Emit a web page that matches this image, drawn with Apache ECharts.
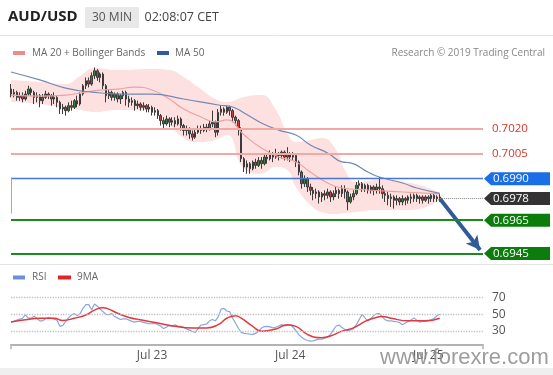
<!DOCTYPE html>
<html><head><meta charset="utf-8">
<script src="https://cdn.jsdelivr.net/npm/echarts@6/dist/echarts.min.js"></script>
<style>html,body{margin:0;padding:0;background:#fff}#c{width:553px;height:375px}</style>
</head><body><div id="c"></div><script>
// ---- DATA ----
const tickIndex = [49, 97, 145];
const tickLabels = ['Jul 23', 'Jul 24', 'Jul 25'];
const slotCount = 165;
// candles: [open, close, low, high]
const candles = [
[0.7044,0.7041,0.7039,0.7047],[0.7041,0.7042,0.7039,0.7044],[0.7042,0.7039,0.7037,0.7043],[0.7039,0.7040,0.7037,0.7042],
[0.7040,0.7038,0.7036,0.7042],[0.7038,0.7041,0.7037,0.7043],[0.7041,0.7044,0.7040,0.7046],[0.7044,0.7042,0.7040,0.7045],
[0.7042,0.7039,0.7035,0.7043],[0.7039,0.7040,0.7036,0.7042],[0.7040,0.7037,0.7033,0.7041],[0.7037,0.7039,0.7035,0.7041],
[0.7039,0.7041,0.7038,0.7043],[0.7041,0.7040,0.7038,0.7042],[0.7040,0.7038,0.7034,0.7041],[0.7038,0.7039,0.7035,0.7042],
[0.7039,0.7036,0.7033,0.7040],[0.7036,0.7032,0.7029,0.7037],[0.7032,0.7033,0.7029,0.7035],[0.7033,0.7031,0.7028,0.7034],
[0.7031,0.7034,0.7030,0.7036],[0.7034,0.7033,0.7031,0.7037],[0.7033,0.7037,0.7032,0.7038],[0.7037,0.7035,0.7033,0.7040],
[0.7035,0.7041,0.7034,0.7042],[0.7041,0.7046,0.7040,0.7047],[0.7046,0.7049,0.7044,0.7051],[0.7049,0.7047,0.7045,0.7051],
[0.7047,0.7052,0.7046,0.7054],[0.7052,0.7055,0.7050,0.7057],[0.7055,0.7051,0.7049,0.7056],[0.7051,0.7053,0.7048,0.7054],
[0.7053,0.7046,0.7044,0.7054],[0.7046,0.7040,0.7036,0.7047],[0.7040,0.7042,0.7038,0.7044],[0.7042,0.7039,0.7037,0.7043],
[0.7039,0.7041,0.7037,0.7042],[0.7041,0.7038,0.7036,0.7042],[0.7038,0.7040,0.7035,0.7041],[0.7040,0.7042,0.7038,0.7043],
[0.7042,0.7038,0.7034,0.7043],[0.7038,0.7036,0.7033,0.7040],[0.7036,0.7037,0.7034,0.7039],[0.7037,0.7034,0.7031,0.7038],
[0.7034,0.7035,0.7032,0.7037],[0.7035,0.7033,0.7031,0.7036],[0.7033,0.7034,0.7031,0.7036],[0.7034,0.7032,0.7030,0.7035],
[0.7032,0.7033,0.7030,0.7035],[0.7033,0.7030,0.7028,0.7034],[0.7030,0.7031,0.7028,0.7033],[0.7031,0.7028,0.7026,0.7032],
[0.7028,0.7025,0.7022,0.7029],[0.7025,0.7023,0.7020,0.7027],[0.7023,0.7026,0.7022,0.7028],[0.7026,0.7024,0.7021,0.7027],
[0.7024,0.7025,0.7022,0.7027],[0.7025,0.7023,0.7021,0.7027],[0.7023,0.7026,0.7022,0.7028],[0.7026,0.7022,0.7019,0.7027],
[0.7022,0.7019,0.7016,0.7023],[0.7019,0.7020,0.7016,0.7022],[0.7020,0.7017,0.7014,0.7021],[0.7017,0.7015,0.7013,0.7019],
[0.7015,0.7018,0.7014,0.7020],[0.7018,0.7020,0.7017,0.7022],[0.7020,0.7019,0.7017,0.7022],[0.7019,0.7021,0.7018,0.7023],
[0.7021,0.7020,0.7018,0.7023],[0.7020,0.7023,0.7019,0.7025],[0.7023,0.7024,0.7021,0.7031],[0.7024,0.7018,0.7015,0.7025],
[0.7018,0.7030,0.7016,0.7032],[0.7030,0.7032,0.7028,0.7034],[0.7032,0.7030,0.7028,0.7033],[0.7030,0.7033,0.7029,0.7034],
[0.7033,0.7031,0.7028,0.7034],[0.7031,0.7027,0.7024,0.7032],[0.7027,0.7025,0.7022,0.7028],[0.7025,0.7020,0.7016,0.7026],
[0.7020,0.7002,0.7000,0.7021],[0.7002,0.6997,0.6994,0.7003],[0.6997,0.6999,0.6993,0.7001],[0.6999,0.6996,0.6993,0.7000],
[0.6996,0.7000,0.6995,0.7001],[0.7000,0.6998,0.6996,0.7002],[0.6998,0.7001,0.6997,0.7003],[0.7001,0.6999,0.6996,0.7003],
[0.6999,0.7003,0.6998,0.7005],[0.7003,0.7002,0.6999,0.7005],[0.7002,0.7005,0.7001,0.7007],[0.7005,0.7003,0.7000,0.7006],
[0.7003,0.7005,0.7002,0.7008],[0.7005,0.7004,0.7001,0.7006],[0.7004,0.7006,0.7002,0.7007],[0.7006,0.7003,0.7001,0.7007],
[0.7003,0.7005,0.7001,0.7009],[0.7005,0.7003,0.7000,0.7006],[0.7003,0.7004,0.7001,0.7006],[0.7004,0.7000,0.6997,0.7005],
[0.7000,0.6994,0.6992,0.7001],[0.6994,0.6987,0.6984,0.6995],[0.6987,0.6990,0.6985,0.6992],[0.6990,0.6985,0.6982,0.6991],
[0.6985,0.6983,0.6980,0.6987],[0.6983,0.6981,0.6977,0.6985],[0.6981,0.6982,0.6978,0.6984],[0.6982,0.6979,0.6975,0.6983],
[0.6979,0.6981,0.6976,0.6982],[0.6981,0.6980,0.6977,0.6983],[0.6980,0.6982,0.6978,0.6984],[0.6982,0.6979,0.6976,0.6983],
[0.6979,0.6981,0.6977,0.6983],[0.6981,0.6983,0.6979,0.6985],[0.6983,0.6981,0.6978,0.6984],[0.6981,0.6984,0.6979,0.6986],
[0.6984,0.6982,0.6978,0.6986],[0.6982,0.6976,0.6971,0.6983],[0.6976,0.6979,0.6975,0.6981],[0.6979,0.6981,0.6977,0.6983],
[0.6981,0.6986,0.6980,0.6988],[0.6986,0.6987,0.6984,0.6989],[0.6987,0.6984,0.6982,0.6988],[0.6984,0.6986,0.6982,0.6987],
[0.6986,0.6983,0.6981,0.6987],[0.6983,0.6985,0.6981,0.6986],[0.6985,0.6983,0.6980,0.6986],[0.6983,0.6985,0.6981,0.6987],
[0.6985,0.6984,0.6981,0.6991],[0.6984,0.6981,0.6978,0.6986],[0.6981,0.6980,0.6976,0.6983],[0.6980,0.6978,0.6974,0.6982],
[0.6978,0.6979,0.6973,0.6981],[0.6979,0.6977,0.6972,0.6980],[0.6977,0.6978,0.6974,0.6980],[0.6978,0.6976,0.6974,0.6979],
[0.6976,0.6978,0.6974,0.6980],[0.6978,0.6977,0.6974,0.6979],[0.6977,0.6979,0.6975,0.6980],[0.6979,0.6978,0.6975,0.6981],
[0.6978,0.6980,0.6976,0.6981],[0.6980,0.6978,0.6976,0.6981],[0.6978,0.6979,0.6975,0.6980],[0.6979,0.6977,0.6975,0.6980],
[0.6977,0.6979,0.6976,0.6980],[0.6979,0.6978,0.6975,0.6980],[0.6978,0.6980,0.6976,0.6981],[0.6980,0.6978,0.6976,0.6981],
[0.6978,0.6979,0.6976,0.6980],[0.6979,0.6978,0.6976,0.6981]
];
// [candle index, price]
const ma50 = [[0,0.70543],[10,0.70495],[19,0.70446],[28,0.70422],[39,0.70410],[49,0.70410],[60,0.70380],[72,0.70344],[77,0.70332],[81,0.70296],[87,0.70236],[93,0.70193],[99,0.70163],[104,0.70103],[110,0.70055],[115,0.70001],[118,0.69995],[124,0.69940],[128,0.69910],[136,0.69874],[141,0.69844],[149,0.69812]];
const ma20 = [[0,0.70404],[10,0.70398],[19,0.70404],[26,0.70422],[31,0.70434],[37,0.70440],[43,0.70452],[49,0.70434],[55,0.70380],[60,0.70320],[66,0.70272],[71,0.70242],[75,0.70254],[81,0.70163],[87,0.70085],[93,0.70031],[99,0.70001],[104,0.69940],[110,0.69874],[115,0.69844],[124,0.69832],[136,0.69820],[149,0.69808]];
const bandIdx   = [0,10,19,24,29,37,49,55,60,65,71,75,81,87,92,96,99,104,108,113,116,120,128,139,149];
const bandUpper = [0.70495,0.70483,0.70471,0.70519,0.70567,0.70555,0.70561,0.70555,0.70513,0.70452,0.70380,0.70362,0.70392,0.70404,0.70314,0.70175,0.70121,0.70133,0.70145,0.70073,0.69952,0.69880,0.69892,0.69874,0.69814];
const bandLower = [0.70362,0.70350,0.70326,0.70314,0.70302,0.70314,0.70314,0.70223,0.70145,0.70121,0.70133,0.70163,0.69960,0.69930,0.69970,0.69952,0.69850,0.69742,0.69699,0.69687,0.69693,0.69699,0.69711,0.69711,0.69771];
const rsi = [40.7,41.5,43,44.2,45.3,49.2,45.3,45.3,47.7,45,42.2,42.2,44.6,46.1,45.3,44.2,43,35.6,36.8,41.5,
45.7,49.2,50.8,48.1,50.8,57,61.6,61.6,55.4,62.4,59.7,56.2,53.1,50,49.6,50.8,47.3,45.7,43.8,44.6,
44.6,43,41.5,40.7,41.5,41.5,40.3,39.5,38.7,38.7,39.5,37.6,36,32.9,34.5,36.8,35.6,37.6,35.6,35.6,
34.5,32.5,31,29.4,28.3,32.9,37.2,37.6,38.4,42.2,43.8,42.2,46.9,56.2,57,53.9,53.1,45.3,39.5,33.3,
28.3,27.1,26.7,26.3,26,27.1,29.8,33.3,35.3,35.6,34.9,33.7,34.5,36,37.6,36,36.8,37.6,34.5,30.6,
25.6,22.5,20.1,18.6,17.8,18.2,19.3,20.1,20.1,21.3,22.5,25.9,31.4,36,37.2,34.1,31.8,30.2,31.4,32.9,
37.6,43.8,50,45.7,41.9,44.6,48.4,50.8,50.8,46.9,43.4,42.2,42.2,41.5,41.1,39.9,37.6,39.5,41.5,43,
45.7,43,40.7,41.5,41.5,42.2,43.4,45,48.4,50];
const rsiMA = [[0,40.7],[5,43.4],[10,45.3],[15,45.3],[18,42.6],[22,45.3],[26,49.2],[29,55],[32,57.8],[34,56.2],[37,51.2],[41,46.1],[45,43.4],[51,39.5],[57,35.6],[63,33.7],[68,33.7],[72,37.6],[75,45.3],[78,48.4],[80,45.3],[84,35.6],[87,29.8],[92,32.5],[96,37.6],[99,35.6],[103,25.9],[108,22],[111,24],[115,29.8],[119,33.7],[123,41.5],[126,45.3],[129,47.3],[132,45.3],[138,42.2],[144,42.2],[149,45.3]];
const resistance = [0.7020, 0.7005];
const pivot = 0.6990;
const lastPrice = 0.6978;
const supports = [0.6965, 0.6945];
const arrowTarget = 0.6947;
const rsiLevels = [70, 50, 30];

// ---- BUILD ----
const cats = [];
for (let i = 0; i < slotCount; i++) {
  const t = i * 30 - 30;
  const day = 22 + Math.floor(t / 1440);
  const m = ((t % 1440) + 1440) % 1440;
  cats.push('07-' + day + ' ' + String(Math.floor(m / 60)).padStart(2, '0') + ':' + String(m % 60).padStart(2, '0'));
}
const lastIdx = candles.length - 1;
const bandLowPairs = bandIdx.map((x, k) => [x, bandLower[k]]);
const bandDiffPairs = bandIdx.map((x, k) => [x, bandUpper[k] - bandLower[k]]);
const FONT = '"Open Sans", sans-serif';
const redLabel = {show: true, position: 'end', distance: 9, color: '#d9342b', fontSize: 11.5, fontFamily: FONT, formatter: p => Number(p.value).toFixed(4)};

const chart = echarts.init(document.getElementById('c'));
const option = {
  animation: false,
  backgroundColor: '#fff',
  grid: [
    {left: 11, right: 70, top: 62.5, height: 199.2},
    {left: 11, right: 70, top: 288.4, height: 56.8}
  ],
  xAxis: [
    {type: 'category', gridIndex: 0, data: cats, boundaryGap: false, show: false},
    {type: 'category', gridIndex: 1, data: cats, boundaryGap: false,
     axisLine: {show: true, lineStyle: {color: '#b3b3b3', width: 2}},
     axisTick: {show: true, length: 4, interval: (i) => i === 0 || i === slotCount - 1, lineStyle: {color: '#b3b3b3', width: 1.5}},
     axisLabel: {interval: (i) => tickIndex.indexOf(i) >= 0, formatter: (v, i) => tickLabels[tickIndex.indexOf(i)] || '',
       color: '#555', fontSize: 12, fontFamily: FONT, margin: 4},
     splitLine: {show: false}}
  ],
  yAxis: [
    {type: 'value', gridIndex: 0, min: 0.6940, max: 0.7060, show: false, splitLine: {show: false}},
    {type: 'value', gridIndex: 1, min: 13, max: 81, show: false, splitLine: {show: false}}
  ],
  series: [
    {type: 'line', name: 'bbLow', data: bandLowPairs, stack: 'bb', smooth: 0.5, symbol: 'none', silent: true,
     lineStyle: {opacity: 0}, z: 1},
    {type: 'line', name: 'bbBand', data: bandDiffPairs, stack: 'bb', smooth: 0.5, symbol: 'none', silent: true,
     lineStyle: {opacity: 0}, areaStyle: {color: '#fde1e1', opacity: 1}, z: 1},
    {type: 'candlestick', data: candles, barWidth: 2, clip: false, z: 3,
     itemStyle: {color: '#3d7f3d', color0: '#d63a3a', borderColor: '#3b3b3b', borderColor0: '#3b3b3b', borderWidth: 1}},
    {type: 'line', name: 'MA 20', data: ma20, smooth: 0.5, symbol: 'none', z: 4,
     lineStyle: {color: '#f0a0a0', width: 1.2},
     markLine: {silent: true, precision: 5, symbol: ['none', 'arrow'], symbolSize: [11, 14], animation: false,
       lineStyle: {color: '#2f5c98', width: 4, type: 'solid'}, label: {show: false},
       data: [[{coord: [lastIdx, lastPrice]}, {coord: [slotCount - 2, arrowTarget]}]]}},
    {type: 'line', name: 'MA 50', data: ma50, smooth: 0.5, symbol: 'none', z: 4,
     lineStyle: {color: '#7488b4', width: 1.2},
     markLine: {silent: true, precision: 5, symbol: ['none', 'none'], animation: false, label: {show: false},
       data: [
         {yAxis: resistance[0], lineStyle: {color: '#f3a8a8', width: 2, type: 'solid'}, label: redLabel},
         {yAxis: resistance[1], lineStyle: {color: '#f3a8a8', width: 2, type: 'solid'}, label: redLabel},
         {yAxis: pivot, lineStyle: {color: '#4877d6', width: 1.3, type: 'solid'}},
         {yAxis: supports[0], lineStyle: {color: '#1d8a1d', width: 2, type: 'solid'}},
         {yAxis: supports[1], lineStyle: {color: '#1d8a1d', width: 2, type: 'solid'}},
         [{coord: [lastIdx, lastPrice], lineStyle: {color: '#888', width: 1, type: 'dotted'}}, {coord: [slotCount - 1, lastPrice]}],
         [{coord: [0, 0.6991], lineStyle: {color: '#aaa', width: 1, type: 'solid'}}, {coord: [0, 0.6969]}]
       ]}},
    {type: 'line', name: 'RSI', xAxisIndex: 1, yAxisIndex: 1, data: rsi, symbol: 'none', z: 3,
     lineStyle: {color: '#8ba5de', width: 1.2},
     markLine: {silent: true, symbol: ['none', 'none'], animation: false,
       lineStyle: {color: '#c2c2c2', width: 1.3, type: 'dotted'},
       label: {show: true, position: 'end', distance: 9, color: '#555', fontSize: 12, fontFamily: FONT, formatter: p => String(Math.round(p.value))},
       data: rsiLevels.map(v => ({yAxis: v}))}},
    {type: 'line', name: '9MA', xAxisIndex: 1, yAxisIndex: 1, data: rsiMA, smooth: 0.5, symbol: 'none', z: 4,
     lineStyle: {color: '#e0393e', width: 1.5}}
  ]
};
chart.setOption(option);

// annotations: price boxes positioned through the y scale
const boxes = [
  {v: pivot, fill: '#1b6fe6'},
  {v: lastPrice, fill: '#333333'},
  {v: supports[0], fill: '#0c7d0c'},
  {v: supports[1], fill: '#0c7d0c'}
];
const g = [
  {type: 'line', shape: {x1: 0, y1: 35.5, x2: 553, y2: 35.5}, style: {stroke: '#e4e4e4', lineWidth: 1}},
  {type: 'line', shape: {x1: 0, y1: 264.5, x2: 553, y2: 264.5}, style: {stroke: '#e4e4e4', lineWidth: 1}},
  {type: 'rect', shape: {x: 0, y: 368, width: 553, height: 7}, style: {fill: '#efefef'}},
  {type: 'text', x: 8, y: 17, style: {text: 'AUD/USD', font: 'bold 15px ' + FONT, fill: '#222', verticalAlign: 'middle'}},
  {type: 'rect', shape: {x: 85, y: 7, width: 54, height: 21}, style: {fill: '#e8e8e8'}},
  {type: 'text', x: 92, y: 17.5, style: {text: '30 MIN', font: '12px ' + FONT, fill: '#555', verticalAlign: 'middle'}},
  {type: 'text', x: 144.5, y: 17.5, style: {text: '02:08:07 CET', font: '12.5px ' + FONT, fill: '#444', verticalAlign: 'middle'}},
  {type: 'rect', shape: {x: 13, y: 51, width: 12, height: 4}, style: {fill: '#f08a8a'}},
  {type: 'text', x: 32, y: 53.5, style: {text: 'MA 20 + Bollinger Bands', font: '10px ' + FONT, fill: '#666', verticalAlign: 'middle'}},
  {type: 'rect', shape: {x: 157, y: 51, width: 12, height: 4}, style: {fill: '#2d5d9f'}},
  {type: 'text', x: 175, y: 53.5, style: {text: 'MA 50', font: '10px ' + FONT, fill: '#666', verticalAlign: 'middle'}},
  {type: 'text', x: 545, y: 53.5, style: {text: 'Research © 2019 Trading Central', font: '10px ' + FONT, fill: '#888', align: 'right', verticalAlign: 'middle'}},
  {type: 'rect', shape: {x: 13, y: 275.5, width: 12, height: 4}, style: {fill: '#6b8fdc'}},
  {type: 'text', x: 32, y: 277.5, style: {text: 'RSI', font: '10px ' + FONT, fill: '#666', verticalAlign: 'middle'}},
  {type: 'rect', shape: {x: 58, y: 275.5, width: 13, height: 4}, style: {fill: '#e02424'}},
  {type: 'text', x: 77, y: 277.5, style: {text: '9MA', font: '10px ' + FONT, fill: '#666', verticalAlign: 'middle'}}
];
boxes.forEach(b => {
  const y = chart.convertToPixel({yAxisIndex: 0}, b.v);
  g.push({type: 'polygon', z: 10, shape: {points: [[484, y], [491, y - 6.5], [550, y - 6.5], [550, y + 6.5], [491, y + 6.5]]}, style: {fill: b.fill}});
  g.push({type: 'text', z: 11, x: 493, y: y + 0.5, style: {text: b.v.toFixed(4), font: '11.5px ' + FONT, fill: '#fff', verticalAlign: 'middle'}});
});
g.push({type: 'text', z: 20, x: 380, y: 358, style: {text: 'www.forexre.com', font: '22px "Liberation Sans", Arial, sans-serif', fill: 'rgba(140,140,140,0.85)', verticalAlign: 'middle'}});
chart.setOption({graphic: g});
</script></body></html>
